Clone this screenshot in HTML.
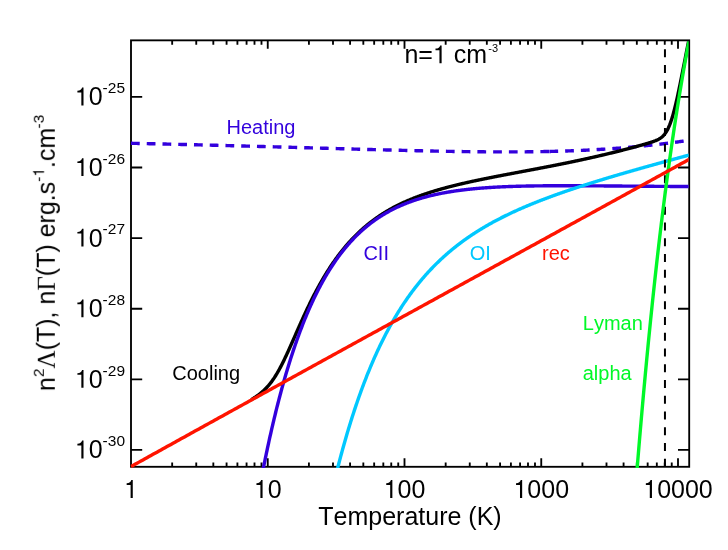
<!DOCTYPE html>
<html><head><meta charset="utf-8"><title>Cooling</title>
<style>html,body{margin:0;padding:0;background:#fff;}body{width:728px;height:550px;overflow:hidden;font-family:"Liberation Sans",sans-serif;}svg{display:block}text{font-kerning:none;}</style>
</head><body>
<svg width="728" height="550" viewBox="0 0 728 550">
<rect width="728" height="550" fill="#fff"/>
<rect x="131.0" y="40.35" width="558.2" height="426.45" fill="none" stroke="#000" stroke-width="1.85"/>
<path d="M172.17,466.8 v-4.4 M172.17,40.35 v4.4 M196.25,466.8 v-4.4 M196.25,40.35 v4.4 M213.33,466.8 v-4.4 M213.33,40.35 v4.4 M226.58,466.8 v-4.4 M226.58,40.35 v4.4 M237.41,466.8 v-4.4 M237.41,40.35 v4.4 M246.57,466.8 v-4.4 M246.57,40.35 v4.4 M254.50,466.8 v-4.4 M254.50,40.35 v4.4 M261.49,466.8 v-4.4 M261.49,40.35 v4.4 M267.75,466.8 v-8.5 M267.75,40.35 v8.5 M308.92,466.8 v-4.4 M308.92,40.35 v4.4 M333.00,466.8 v-4.4 M333.00,40.35 v4.4 M350.08,466.8 v-4.4 M350.08,40.35 v4.4 M363.33,466.8 v-4.4 M363.33,40.35 v4.4 M374.16,466.8 v-4.4 M374.16,40.35 v4.4 M383.32,466.8 v-4.4 M383.32,40.35 v4.4 M391.25,466.8 v-4.4 M391.25,40.35 v4.4 M398.24,466.8 v-4.4 M398.24,40.35 v4.4 M404.50,466.8 v-8.5 M404.50,40.35 v8.5 M445.67,466.8 v-4.4 M445.67,40.35 v4.4 M469.75,466.8 v-4.4 M469.75,40.35 v4.4 M486.83,466.8 v-4.4 M486.83,40.35 v4.4 M500.08,466.8 v-4.4 M500.08,40.35 v4.4 M510.91,466.8 v-4.4 M510.91,40.35 v4.4 M520.07,466.8 v-4.4 M520.07,40.35 v4.4 M528.00,466.8 v-4.4 M528.00,40.35 v4.4 M534.99,466.8 v-4.4 M534.99,40.35 v4.4 M541.25,466.8 v-8.5 M541.25,40.35 v8.5 M582.42,466.8 v-4.4 M582.42,40.35 v4.4 M606.50,466.8 v-4.4 M606.50,40.35 v4.4 M623.58,466.8 v-4.4 M623.58,40.35 v4.4 M636.83,466.8 v-4.4 M636.83,40.35 v4.4 M647.66,466.8 v-4.4 M647.66,40.35 v4.4 M656.82,466.8 v-4.4 M656.82,40.35 v4.4 M664.75,466.8 v-4.4 M664.75,40.35 v4.4 M671.74,466.8 v-4.4 M671.74,40.35 v4.4 M678.00,466.8 v-8.5 M678.00,40.35 v8.5 M131.0,449.90 h11.2 M689.2,449.90 h-11.2 M131.0,379.30 h11.2 M689.2,379.30 h-11.2 M131.0,308.70 h11.2 M689.2,308.70 h-11.2 M131.0,238.10 h11.2 M689.2,238.10 h-11.2 M131.0,167.50 h11.2 M689.2,167.50 h-11.2 M131.0,96.90 h11.2 M689.2,96.90 h-11.2" stroke="#000" stroke-width="1.85" fill="none"/>
<clipPath id="c"><rect x="130.4" y="41.2" width="558.2" height="426.8"/></clipPath>
<g clip-path="url(#c)"><path d="M131.00,143.28 L132.00,143.31 L133.00,143.33 L134.00,143.35 L135.00,143.37 L136.00,143.39 L137.00,143.42 L138.00,143.44 L139.00,143.46 L140.00,143.48 L141.00,143.50 L142.00,143.53 L143.00,143.55 L144.00,143.57 L145.00,143.59 L146.00,143.62 L147.00,143.64 L148.00,143.66 L149.00,143.68 L150.00,143.71 L151.00,143.73 L152.00,143.75 L153.00,143.77 L154.00,143.80 L155.00,143.82 L156.00,143.84 L157.00,143.87 L158.00,143.89 L159.00,143.91 L160.00,143.93 L161.00,143.96 L162.00,143.98 L163.00,144.00 L164.00,144.03 L165.00,144.05 L166.00,144.07 L167.00,144.10 L168.00,144.12 L169.00,144.14 L170.00,144.17 L171.00,144.19 L172.00,144.22 L173.00,144.24 L174.00,144.26 L175.00,144.29 L176.00,144.31 L177.00,144.33 L178.00,144.36 L179.00,144.38 L180.00,144.41 L181.00,144.43 L182.00,144.45 L183.00,144.48 L184.00,144.50 L185.00,144.53 L186.00,144.55 L187.00,144.57 L188.00,144.60 L189.00,144.62 L190.00,144.65 L191.00,144.67 L192.00,144.70 L193.00,144.72 L194.00,144.75 L195.00,144.77 L196.00,144.80 L197.00,144.82 L198.00,144.84 L199.00,144.87 L200.00,144.89 L201.00,144.92 L202.00,144.94 L203.00,144.97 L204.00,144.99 L205.00,145.02 L206.00,145.04 L207.00,145.07 L208.00,145.09 L209.00,145.12 L210.00,145.15 L211.00,145.17 L212.00,145.20 L213.00,145.22 L214.00,145.25 L215.00,145.27 L216.00,145.30 L217.00,145.32 L218.00,145.35 L219.00,145.37 L220.00,145.40 L221.00,145.43 L222.00,145.45 L223.00,145.48 L224.00,145.50 L225.00,145.53 L226.00,145.55 L227.00,145.58 L228.00,145.61 L229.00,145.63 L230.00,145.66 L231.00,145.68 L232.00,145.71 L233.00,145.74 L234.00,145.76 L235.00,145.79 L236.00,145.82 L237.00,145.84 L238.00,145.87 L239.00,145.89 L240.00,145.92 L241.00,145.95 L242.00,145.97 L243.00,146.00 L244.00,146.03 L245.00,146.05 L246.00,146.08 L247.00,146.11 L248.00,146.13 L249.00,146.16 L250.00,146.19 L251.00,146.21 L252.00,146.24 L253.00,146.27 L254.00,146.29 L255.00,146.32 L256.00,146.35 L257.00,146.38 L258.00,146.40 L259.00,146.43 L260.00,146.46 L261.00,146.48 L262.00,146.51 L263.00,146.54 L264.00,146.57 L265.00,146.59 L266.00,146.62 L267.00,146.65 L268.00,146.67 L269.00,146.70 L270.00,146.73 L271.00,146.76 L272.00,146.78 L273.00,146.81 L274.00,146.84 L275.00,146.87 L276.00,146.89 L277.00,146.92 L278.00,146.95 L279.00,146.98 L280.00,147.00 L281.00,147.03 L282.00,147.06 L283.00,147.09 L284.00,147.12 L285.00,147.14 L286.00,147.17 L287.00,147.20 L288.00,147.23 L289.00,147.25 L290.00,147.28 L291.00,147.31 L292.00,147.34 L293.00,147.37 L294.00,147.39 L295.00,147.42 L296.00,147.45 L297.00,147.48 L298.00,147.51 L299.00,147.53 L300.00,147.56 L301.00,147.59 L302.00,147.62 L303.00,147.65 L304.00,147.67 L305.00,147.70 L306.00,147.73 L307.00,147.76 L308.00,147.79 L309.00,147.81 L310.00,147.84 L311.00,147.87 L312.00,147.90 L313.00,147.93 L314.00,147.95 L315.00,147.98 L316.00,148.01 L317.00,148.04 L318.00,148.07 L319.00,148.10 L320.00,148.12 L321.00,148.15 L322.00,148.18 L323.00,148.21 L324.00,148.24 L325.00,148.26 L326.00,148.29 L327.00,148.32 L328.00,148.35 L329.00,148.38 L330.00,148.41 L331.00,148.43 L332.00,148.46 L333.00,148.49 L334.00,148.52 L335.00,148.55 L336.00,148.57 L337.00,148.60 L338.00,148.63 L339.00,148.66 L340.00,148.69 L341.00,148.71 L342.00,148.74 L343.00,148.77 L344.00,148.80 L345.00,148.83 L346.00,148.85 L347.00,148.88 L348.00,148.91 L349.00,148.94 L350.00,148.97 L351.00,148.99 L352.00,149.02 L353.00,149.05 L354.00,149.08 L355.00,149.10 L356.00,149.13 L357.00,149.16 L358.00,149.19 L359.00,149.21 L360.00,149.24 L361.00,149.27 L362.00,149.30 L363.00,149.32 L364.00,149.35 L365.00,149.38 L366.00,149.41 L367.00,149.43 L368.00,149.46 L369.00,149.49 L370.00,149.51 L371.00,149.54 L372.00,149.57 L373.00,149.60 L374.00,149.62 L375.00,149.65 L376.00,149.68 L377.00,149.70 L378.00,149.73 L379.00,149.76 L380.00,149.78 L381.00,149.81 L382.00,149.84 L383.00,149.86 L384.00,149.89 L385.00,149.91 L386.00,149.94 L387.00,149.97 L388.00,149.99 L389.00,150.02 L390.00,150.04 L391.00,150.07 L392.00,150.10 L393.00,150.12 L394.00,150.15 L395.00,150.17 L396.00,150.20 L397.00,150.22 L398.00,150.25 L399.00,150.27 L400.00,150.30 L401.00,150.32 L402.00,150.35 L403.00,150.37 L404.00,150.40 L405.00,150.42 L406.00,150.44 L407.00,150.47 L408.00,150.49 L409.00,150.52 L410.00,150.54 L411.00,150.57 L412.00,150.59 L413.00,150.61 L414.00,150.64 L415.00,150.66 L416.00,150.68 L417.00,150.71 L418.00,150.73 L419.00,150.75 L420.00,150.77 L421.00,150.80 L422.00,150.82 L423.00,150.84 L424.00,150.86 L425.00,150.88 L426.00,150.91 L427.00,150.93 L428.00,150.95 L429.00,150.97 L430.00,150.99 L431.00,151.01 L432.00,151.03 L433.00,151.05 L434.00,151.08 L435.00,151.10 L436.00,151.12 L437.00,151.14 L438.00,151.16 L439.00,151.18 L440.00,151.19 L441.00,151.21 L442.00,151.23 L443.00,151.25 L444.00,151.27 L445.00,151.29 L446.00,151.31 L447.00,151.33 L448.00,151.34 L449.00,151.36 L450.00,151.38 L451.00,151.40 L452.00,151.41 L453.00,151.43 L454.00,151.45 L455.00,151.46 L456.00,151.48 L457.00,151.49 L458.00,151.51 L459.00,151.53 L460.00,151.54 L461.00,151.56 L462.00,151.57 L463.00,151.59 L464.00,151.60 L465.00,151.61 L466.00,151.63 L467.00,151.64 L468.00,151.65 L469.00,151.67 L470.00,151.68 L471.00,151.69 L472.00,151.70 L473.00,151.72 L474.00,151.73 L475.00,151.74 L476.00,151.75 L477.00,151.76 L478.00,151.77 L479.00,151.78 L480.00,151.79 L481.00,151.80 L482.00,151.81 L483.00,151.82 L484.00,151.82 L485.00,151.83 L486.00,151.84 L487.00,151.85 L488.00,151.85 L489.00,151.86 L490.00,151.87 L491.00,151.87 L492.00,151.88 L493.00,151.88 L494.00,151.89 L495.00,151.89 L496.00,151.90 L497.00,151.90 L498.00,151.90 L499.00,151.91 L500.00,151.91 L501.00,151.91 L502.00,151.91 L503.00,151.92 L504.00,151.92 L505.00,151.92 L506.00,151.92 L507.00,151.92 L508.00,151.92 L509.00,151.92 L510.00,151.91 L511.00,151.91 L512.00,151.91 L513.00,151.91 L514.00,151.90 L515.00,151.90 L516.00,151.90 L517.00,151.89 L518.00,151.89 L519.00,151.88 L520.00,151.87 L521.00,151.87 L522.00,151.86 L523.00,151.85 L524.00,151.84 L525.00,151.84 L526.00,151.83 L527.00,151.82 L528.00,151.81 L529.00,151.80 L530.00,151.79 L531.00,151.77 L532.00,151.76 L533.00,151.75 L534.00,151.74 L535.00,151.72 L536.00,151.71 L537.00,151.69 L538.00,151.68 L539.00,151.66 L540.00,151.64 L541.00,151.63 L542.00,151.61 L543.00,151.59 L544.00,151.57 L545.00,151.55 L546.00,151.53 L547.00,151.51 L548.00,151.49 L549.00,151.47 L549.40,151.46" stroke="#3300dd" stroke-width="3.4" stroke-dasharray="8.75 7" fill="none"/>
<path d="M549.40,151.46 L550.40,151.44 L551.40,151.41 L552.40,151.39 L553.40,151.36 L554.40,151.34 L555.40,151.31 L556.40,151.28 L557.40,151.26 L558.40,151.23 L559.40,151.20 L560.40,151.17 L561.40,151.14 L562.40,151.11 L563.40,151.08 L564.40,151.05 L565.40,151.01 L566.40,150.98 L567.40,150.95 L568.40,150.91 L569.40,150.87 L570.40,150.84 L571.40,150.80 L572.40,150.76 L573.40,150.72 L574.40,150.68 L575.40,150.64 L576.40,150.60 L577.40,150.56 L578.40,150.52 L579.40,150.48 L580.40,150.43 L581.40,150.39 L582.40,150.34 L583.40,150.30 L584.40,150.25 L585.40,150.20 L586.40,150.15 L587.40,150.10 L588.40,150.05 L589.40,150.00 L590.40,149.95 L591.40,149.90 L592.40,149.84 L593.40,149.79 L594.40,149.73 L595.40,149.68 L596.40,149.62 L597.40,149.56 L598.40,149.50 L599.40,149.45 L600.40,149.38 L601.40,149.32 L602.40,149.26 L603.40,149.20 L604.40,149.14 L605.40,149.07 L606.40,149.00 L607.40,148.94 L608.40,148.87 L609.40,148.80 L610.40,148.73 L611.40,148.66 L612.40,148.59 L613.40,148.52 L614.40,148.45 L615.40,148.38 L616.40,148.30 L617.40,148.23 L618.40,148.15 L619.40,148.07 L620.40,147.99 L621.40,147.91 L622.40,147.83 L623.40,147.75 L624.40,147.67 L625.40,147.59 L626.40,147.51 L627.40,147.42 L628.40,147.34 L629.40,147.25 L630.40,147.16 L631.40,147.07 L632.40,146.98 L633.40,146.89 L634.40,146.80 L635.40,146.71 L636.40,146.62 L637.40,146.52 L638.40,146.43 L639.40,146.33 L640.40,146.23 L641.40,146.13 L642.40,146.04 L643.40,145.94 L644.40,145.83 L645.40,145.73 L646.40,145.63 L647.40,145.53 L648.40,145.42 L649.40,145.31 L650.40,145.21 L651.40,145.10 L652.40,144.99 L653.40,144.88 L654.40,144.77 L655.40,144.66 L656.40,144.55 L657.40,144.43 L658.40,144.32 L659.40,144.20 L660.40,144.08 L661.40,143.97 L662.40,143.85 L663.40,143.73 L664.40,143.61 L665.40,143.49 L666.40,143.36 L667.40,143.24 L668.40,143.11 L669.40,142.99 L670.40,142.86 L671.40,142.73 L672.40,142.61 L673.40,142.48 L674.40,142.35 L675.40,142.21 L676.40,142.08 L677.40,141.95 L678.40,141.81 L679.40,141.68 L680.40,141.54 L681.40,141.41 L682.40,141.27 L683.40,141.13 L684.40,140.99 L685.40,140.85 L686.40,140.70 L687.40,140.56 L688.40,140.42 L689.20,140.30" stroke="#3300dd" stroke-width="3.4" stroke-dasharray="8.75 7" fill="none"/>
<path d="M251.25,399.70 L251.75,399.39 L252.25,399.08 L252.75,398.76 L253.25,398.44 L253.75,398.12 L254.25,397.79 L254.75,397.46 L255.25,397.13 L255.75,396.79 L256.25,396.44 L256.75,396.09 L257.25,395.74 L257.75,395.37 L258.25,395.01 L258.75,394.63 L259.25,394.25 L259.75,393.87 L260.25,393.47 L260.75,393.07 L261.25,392.66 L261.75,392.24 L262.25,391.81 L262.75,391.37 L263.25,390.92 L263.75,390.47 L264.25,390.00 L264.75,389.52 L265.25,389.03 L265.75,388.52 L266.25,388.01 L266.75,387.48 L267.25,386.94 L267.75,386.39 L268.25,385.82 L268.75,385.24 L269.25,384.64 L269.75,384.03 L270.25,383.41 L270.75,382.76 L271.25,382.11 L271.75,381.44 L272.25,380.75 L272.75,380.05 L273.25,379.33 L273.75,378.59 L274.25,377.84 L274.75,377.07 L275.25,376.29 L275.75,375.49 L276.25,374.68 L276.75,373.84 L277.25,373.00 L277.75,372.14 L278.25,371.26 L278.75,370.37 L279.25,369.46 L279.75,368.54 L280.25,367.60 L280.75,366.65 L281.25,365.69 L281.75,364.72 L282.25,363.73 L282.75,362.73 L283.25,361.72 L283.75,360.70 L284.25,359.66 L284.75,358.62 L285.25,357.57 L285.75,356.51 L286.25,355.44 L286.75,354.36 L287.25,353.28 L287.75,352.18 L288.25,351.08 L288.75,349.98 L289.25,348.87 L289.75,347.76 L290.25,346.64 L290.75,345.52 L291.25,344.39 L291.75,343.26 L292.25,342.13 L292.75,341.00 L293.25,339.86 L293.75,338.73 L294.25,337.59 L294.75,336.45 L295.25,335.31 L295.75,334.18 L296.25,333.04 L296.75,331.91 L297.25,330.77 L297.75,329.64 L298.25,328.51 L298.75,327.38 L299.25,326.26 L299.75,325.14 L300.25,324.02 L300.75,322.90 L301.25,321.79 L301.75,320.68 L302.25,319.58 L302.75,318.48 L303.25,317.38 L303.75,316.29 L304.25,315.20 L304.75,314.12 L305.25,313.04 L305.75,311.97 L306.25,310.91 L306.75,309.85 L307.25,308.79 L307.75,307.74 L308.25,306.70 L308.75,305.66 L309.25,304.63 L309.75,303.60 L310.25,302.58 L310.75,301.57 L311.25,300.56 L311.75,299.56 L312.25,298.56 L312.75,297.57 L313.25,296.59 L313.75,295.61 L314.25,294.64 L314.75,293.68 L315.25,292.72 L315.75,291.77 L316.25,290.83 L316.75,289.89 L317.25,288.96 L317.75,288.03 L318.25,287.12 L318.75,286.21 L319.25,285.30 L319.75,284.40 L320.25,283.51 L320.75,282.63 L321.25,281.75 L321.75,280.88 L322.25,280.01 L322.75,279.15 L323.25,278.30 L323.75,277.45 L324.25,276.61 L324.75,275.78 L325.25,274.95 L325.75,274.13 L326.25,273.32 L326.75,272.51 L327.25,271.71 L327.75,270.91 L328.25,270.13 L328.75,269.34 L329.25,268.57 L329.75,267.80 L330.25,267.03 L330.75,266.27 L331.25,265.52 L331.75,264.78 L332.25,264.04 L332.75,263.30 L333.25,262.57 L333.75,261.85 L334.25,261.13 L334.75,260.42 L335.25,259.72 L335.75,259.02 L336.25,258.33 L336.75,257.64 L337.25,256.96 L337.75,256.28 L338.25,255.61 L338.75,254.94 L339.25,254.28 L339.75,253.63 L340.25,252.98 L340.75,252.34 L341.25,251.70 L341.75,251.07 L342.25,250.44 L342.75,249.82 L343.25,249.20 L343.75,248.59 L344.25,247.98 L344.75,247.38 L345.25,246.78 L345.75,246.19 L346.25,245.60 L346.75,245.02 L347.25,244.44 L347.75,243.87 L348.25,243.30 L348.75,242.74 L349.25,242.18 L349.75,241.63 L350.25,241.08 L350.75,240.53 L351.25,239.99 L351.75,239.46 L352.25,238.93 L352.75,238.40 L353.25,237.88 L353.75,237.36 L354.25,236.85 L354.75,236.34 L355.25,235.84 L355.75,235.34 L356.25,234.84 L356.75,234.35 L357.25,233.86 L357.75,233.38 L358.25,232.90 L358.75,232.42 L359.25,231.95 L359.75,231.49 L360.25,231.02 L360.75,230.56 L361.25,230.11 L361.75,229.66 L362.25,229.21 L362.75,228.76 L363.25,228.32 L363.75,227.89 L364.25,227.45 L364.75,227.02 L365.25,226.60 L365.75,226.18 L366.25,225.76 L366.75,225.34 L367.25,224.93 L367.75,224.52 L368.25,224.12 L368.75,223.71 L369.25,223.32 L369.75,222.92 L370.25,222.53 L370.75,222.14 L371.25,221.76 L371.75,221.37 L372.25,221.00 L372.75,220.62 L373.25,220.25 L373.75,219.88 L374.25,219.51 L374.75,219.15 L375.25,218.79 L375.75,218.43 L376.25,218.08 L376.75,217.73 L377.25,217.38 L377.75,217.03 L378.25,216.69 L378.75,216.35 L379.25,216.01 L379.75,215.68 L380.25,215.35 L380.75,215.02 L381.25,214.69 L381.75,214.37 L382.25,214.05 L382.75,213.73 L383.25,213.41 L383.75,213.10 L384.25,212.79 L384.75,212.48 L385.25,212.17 L385.75,211.87 L386.25,211.57 L386.75,211.27 L387.25,210.98 L387.75,210.68 L388.25,210.39 L388.75,210.10 L389.25,209.82 L389.75,209.53 L390.25,209.25 L390.75,208.97 L391.25,208.69 L391.75,208.42 L392.25,208.14 L392.75,207.87 L393.25,207.60 L393.75,207.33 L394.25,207.07 L394.75,206.81 L395.25,206.55 L395.75,206.29 L396.25,206.03 L396.75,205.78 L397.25,205.52 L397.75,205.27 L398.25,205.02 L398.75,204.77 L399.25,204.53 L399.75,204.29 L400.25,204.04 L400.75,203.80 L401.25,203.57 L401.75,203.33 L402.25,203.10 L402.75,202.86 L403.25,202.63 L403.75,202.40 L404.25,202.18 L404.75,201.95 L405.25,201.73 L405.75,201.50 L406.25,201.28 L406.75,201.06 L407.25,200.84 L407.75,200.63 L408.25,200.41 L408.75,200.20 L409.25,199.99 L409.75,199.78 L410.25,199.57 L410.75,199.36 L411.25,199.16 L411.75,198.95 L412.25,198.75 L412.75,198.55 L413.25,198.35 L413.75,198.15 L414.25,197.95 L414.75,197.76 L415.25,197.56 L415.75,197.37 L416.25,197.18 L416.75,196.99 L417.25,196.80 L417.75,196.61 L418.25,196.42 L418.75,196.24 L419.25,196.05 L419.75,195.87 L420.25,195.69 L420.75,195.51 L421.25,195.33 L421.75,195.15 L422.25,194.97 L422.75,194.80 L423.25,194.62 L423.75,194.45 L424.25,194.28 L424.75,194.11 L425.25,193.94 L425.75,193.77 L426.25,193.60 L426.75,193.43 L427.25,193.27 L427.75,193.10 L428.25,192.94 L428.75,192.77 L429.25,192.61 L429.75,192.45 L430.25,192.29 L430.75,192.13 L431.25,191.97 L431.75,191.81 L432.25,191.66 L432.75,191.50 L433.25,191.35 L433.75,191.19 L434.25,191.04 L434.75,190.89 L435.25,190.74 L435.75,190.59 L436.25,190.44 L436.75,190.29 L437.25,190.14 L437.75,190.00 L438.25,189.85 L438.75,189.70 L439.25,189.56 L439.75,189.42 L440.25,189.27 L440.75,189.13 L441.25,188.99 L441.75,188.85 L442.25,188.71 L442.75,188.57 L443.25,188.43 L443.75,188.29 L444.25,188.16 L444.75,188.02 L445.25,187.88 L445.75,187.75 L446.25,187.62 L446.75,187.48 L447.25,187.35 L447.75,187.22 L448.25,187.08 L448.75,186.95 L449.25,186.82 L449.75,186.69 L450.25,186.56 L450.75,186.44 L451.25,186.31 L451.75,186.18 L452.25,186.05 L452.75,185.93 L453.25,185.80 L453.75,185.68 L454.25,185.55 L454.75,185.43 L455.25,185.30 L455.75,185.18 L456.25,185.06 L456.75,184.94 L457.25,184.82 L457.75,184.69 L458.25,184.57 L458.75,184.45 L459.25,184.34 L459.75,184.22 L460.25,184.10 L460.75,183.98 L461.25,183.86 L461.75,183.75 L462.25,183.63 L462.75,183.51 L463.25,183.40 L463.75,183.28 L464.25,183.17 L464.75,183.05 L465.25,182.94 L465.75,182.83 L466.25,182.71 L466.75,182.60 L467.25,182.49 L467.75,182.37 L468.25,182.26 L468.75,182.15 L469.25,182.04 L469.75,181.93 L470.25,181.82 L470.75,181.71 L471.25,181.60 L471.75,181.49 L472.25,181.38 L472.75,181.28 L473.25,181.17 L473.75,181.06 L474.25,180.95 L474.75,180.85 L475.25,180.74 L475.75,180.63 L476.25,180.53 L476.75,180.42 L477.25,180.31 L477.75,180.21 L478.25,180.10 L478.75,180.00 L479.25,179.90 L479.75,179.79 L480.25,179.69 L480.75,179.58 L481.25,179.48 L481.75,179.38 L482.25,179.27 L482.75,179.17 L483.25,179.07 L483.75,178.97 L484.25,178.87 L484.75,178.76 L485.25,178.66 L485.75,178.56 L486.25,178.46 L486.75,178.36 L487.25,178.26 L487.75,178.16 L488.25,178.06 L488.75,177.96 L489.25,177.86 L489.75,177.76 L490.25,177.66 L490.75,177.56 L491.25,177.46 L491.75,177.36 L492.25,177.27 L492.75,177.17 L493.25,177.07 L493.75,176.97 L494.25,176.87 L494.75,176.77 L495.25,176.68 L495.75,176.58 L496.25,176.48 L496.75,176.39 L497.25,176.29 L497.75,176.19 L498.25,176.09 L498.75,176.00 L499.25,175.90 L499.75,175.80 L500.25,175.71 L500.75,175.61 L501.25,175.52 L501.75,175.42 L502.25,175.32 L502.75,175.23 L503.25,175.13 L503.75,175.04 L504.25,174.94 L504.75,174.85 L505.25,174.75 L505.75,174.66 L506.25,174.56 L506.75,174.47 L507.25,174.37 L507.75,174.28 L508.25,174.18 L508.75,174.09 L509.25,173.99 L509.75,173.90 L510.25,173.80 L510.75,173.71 L511.25,173.61 L511.75,173.52 L512.25,173.43 L512.75,173.33 L513.25,173.24 L513.75,173.14 L514.25,173.05 L514.75,172.95 L515.25,172.86 L515.75,172.77 L516.25,172.67 L516.75,172.58 L517.25,172.48 L517.75,172.39 L518.25,172.30 L518.75,172.20 L519.25,172.11 L519.75,172.01 L520.25,171.92 L520.75,171.83 L521.25,171.73 L521.75,171.64 L522.25,171.54 L522.75,171.45 L523.25,171.36 L523.75,171.26 L524.25,171.17 L524.75,171.07 L525.25,170.98 L525.75,170.89 L526.25,170.79 L526.75,170.70 L527.25,170.60 L527.75,170.51 L528.25,170.42 L528.75,170.32 L529.25,170.23 L529.75,170.13 L530.25,170.04 L530.75,169.94 L531.25,169.85 L531.75,169.76 L532.25,169.66 L532.75,169.57 L533.25,169.47 L533.75,169.38 L534.25,169.28 L534.75,169.19 L535.25,169.09 L535.75,169.00 L536.25,168.90 L536.75,168.81 L537.25,168.71 L537.75,168.62 L538.25,168.52 L538.75,168.43 L539.25,168.33 L539.75,168.24 L540.25,168.14 L540.75,168.04 L541.25,167.95 L541.75,167.85 L542.25,167.76 L542.75,167.66 L543.25,167.56 L543.75,167.47 L544.25,167.37 L544.75,167.28 L545.25,167.18 L545.75,167.08 L546.25,166.99 L546.75,166.89 L547.25,166.79 L547.75,166.70 L548.25,166.60 L548.75,166.50 L549.25,166.40 L549.75,166.31 L550.25,166.21 L550.75,166.11 L551.25,166.01 L551.75,165.92 L552.25,165.82 L552.75,165.72 L553.25,165.62 L553.75,165.52 L554.25,165.42 L554.75,165.32 L555.25,165.23 L555.75,165.13 L556.25,165.03 L556.75,164.93 L557.25,164.83 L557.75,164.73 L558.25,164.63 L558.75,164.53 L559.25,164.43 L559.75,164.33 L560.25,164.23 L560.75,164.13 L561.25,164.03 L561.75,163.93 L562.25,163.83 L562.75,163.73 L563.25,163.62 L563.75,163.52 L564.25,163.42 L564.75,163.32 L565.25,163.22 L565.75,163.12 L566.25,163.01 L566.75,162.91 L567.25,162.81 L567.75,162.71 L568.25,162.60 L568.75,162.50 L569.25,162.40 L569.75,162.29 L570.25,162.19 L570.75,162.09 L571.25,161.98 L571.75,161.88 L572.25,161.77 L572.75,161.67 L573.25,161.56 L573.75,161.46 L574.25,161.35 L574.75,161.25 L575.25,161.14 L575.75,161.04 L576.25,160.93 L576.75,160.83 L577.25,160.72 L577.75,160.61 L578.25,160.51 L578.75,160.40 L579.25,160.29 L579.75,160.19 L580.25,160.08 L580.75,159.97 L581.25,159.86 L581.75,159.76 L582.25,159.65 L582.75,159.54 L583.25,159.43 L583.75,159.32 L584.25,159.21 L584.75,159.10 L585.25,158.99 L585.75,158.88 L586.25,158.77 L586.75,158.66 L587.25,158.55 L587.75,158.44 L588.25,158.33 L588.75,158.22 L589.25,158.11 L589.75,158.00 L590.25,157.89 L590.75,157.77 L591.25,157.66 L591.75,157.55 L592.25,157.44 L592.75,157.32 L593.25,157.21 L593.75,157.10 L594.25,156.98 L594.75,156.87 L595.25,156.76 L595.75,156.64 L596.25,156.53 L596.75,156.41 L597.25,156.30 L597.75,156.18 L598.25,156.07 L598.75,155.95 L599.25,155.84 L599.75,155.72 L600.25,155.60 L600.75,155.49 L601.25,155.37 L601.75,155.25 L602.25,155.14 L602.75,155.02 L603.25,154.90 L603.75,154.78 L604.25,154.66 L604.75,154.54 L605.25,154.43 L605.75,154.31 L606.25,154.19 L606.75,154.07 L607.25,153.95 L607.75,153.83 L608.25,153.71 L608.75,153.59 L609.25,153.47 L609.75,153.34 L610.25,153.22 L610.75,153.10 L611.25,152.98 L611.75,152.86 L612.25,152.73 L612.75,152.61 L613.25,152.49 L613.75,152.37 L614.25,152.24 L614.75,152.12 L615.25,151.99 L615.75,151.87 L616.25,151.75 L616.75,151.62 L617.25,151.50 L617.75,151.37 L618.25,151.24 L618.75,151.12 L619.25,150.99 L619.75,150.87 L620.25,150.74 L620.75,150.61 L621.25,150.49 L621.75,150.36 L622.25,150.23 L622.75,150.10 L623.25,149.97 L623.75,149.84 L624.25,149.72 L624.75,149.59 L625.25,149.46 L625.75,149.33 L626.25,149.20 L626.75,149.07 L627.25,148.94 L627.75,148.81 L628.25,148.67 L628.75,148.54 L629.25,148.41 L629.75,148.28 L630.25,148.15 L630.75,148.01 L631.25,147.88 L631.75,147.75 L632.25,147.61 L632.75,147.48 L633.25,147.35 L633.75,147.21 L634.25,147.08 L634.75,146.94 L635.25,146.81 L635.75,146.67 L636.25,146.54 L636.75,146.40 L637.25,146.26 L637.75,146.13 L638.25,145.99 L638.75,145.85 L639.25,145.72 L639.75,145.58 L640.25,145.44 L640.75,145.30 L641.25,145.16 L641.75,145.02 L642.25,144.88 L642.75,144.74 L643.25,144.60 L643.75,144.46 L644.25,144.32 L644.75,144.17 L645.25,144.03 L645.75,143.88 L646.25,143.74 L646.75,143.59 L647.25,143.45 L647.75,143.30 L648.25,143.15 L648.75,143.00 L649.25,142.85 L649.75,142.69 L650.25,142.54 L650.75,142.38 L651.25,142.22 L651.75,142.05 L652.25,141.89 L652.75,141.72 L653.25,141.54 L653.75,141.36 L654.25,141.18 L654.75,140.99 L655.25,140.79 L655.75,140.59 L656.25,140.37 L656.75,140.15 L657.25,139.92 L657.75,139.68 L658.25,139.42 L658.75,139.15 L659.25,138.86 L659.75,138.56 L660.25,138.23 L660.75,137.88 L661.25,137.51 L661.75,137.11 L662.25,136.68 L662.75,136.22 L663.25,135.73 L663.75,135.19 L664.25,134.62 L664.75,134.00 L665.25,133.33 L665.75,132.61 L666.25,131.84 L666.75,131.01 L667.25,130.12 L667.75,129.16 L668.25,128.14 L668.75,127.04 L669.25,125.88 L669.75,124.65 L670.25,123.33 L670.75,121.95 L671.25,120.49 L671.75,118.95 L672.25,117.34 L672.75,115.65 L673.25,113.89 L673.75,112.06 L674.25,110.17 L674.75,108.20 L675.25,106.18 L675.75,104.10 L676.25,101.96 L676.75,99.77 L677.25,97.54 L677.75,95.26 L678.25,92.94 L678.75,90.58 L679.25,88.19 L679.75,85.78 L680.25,83.34 L680.75,80.88 L681.25,78.40 L681.75,75.90 L682.25,73.39 L682.75,70.87 L683.25,68.35 L683.75,65.82 L684.25,63.28 L684.75,60.75 L685.25,58.21 L685.75,55.68 L686.25,53.15 L686.75,50.63 L687.25,48.11 L687.75,45.61 L688.25,43.11 L688.75,40.62 L689.20,38.38" stroke="#000" stroke-width="3.4" fill="none" stroke-linejoin="round"/>
<path d="M263.03,469.80 L263.53,467.29 L264.03,464.79 L264.53,462.32 L265.03,459.87 L265.53,457.44 L266.03,455.03 L266.53,452.65 L267.03,450.28 L267.53,447.93 L268.03,445.60 L268.53,443.30 L269.03,441.01 L269.53,438.74 L270.03,436.49 L270.53,434.26 L271.03,432.05 L271.53,429.86 L272.03,427.68 L272.53,425.53 L273.03,423.39 L273.53,421.27 L274.03,419.17 L274.53,417.09 L275.03,415.03 L275.53,412.98 L276.03,410.95 L276.53,408.94 L277.03,406.95 L277.53,404.97 L278.03,403.01 L278.53,401.07 L279.03,399.14 L279.53,397.23 L280.03,395.33 L280.53,393.46 L281.03,391.59 L281.53,389.75 L282.03,387.92 L282.53,386.10 L283.03,384.30 L283.53,382.52 L284.03,380.75 L284.53,379.00 L285.03,377.26 L285.53,375.54 L286.03,373.83 L286.53,372.14 L287.03,370.46 L287.53,368.79 L288.03,367.14 L288.53,365.51 L289.03,363.88 L289.53,362.28 L290.03,360.68 L290.53,359.10 L291.03,357.53 L291.53,355.98 L292.03,354.44 L292.53,352.91 L293.03,351.40 L293.53,349.90 L294.03,348.41 L294.53,346.93 L295.03,345.47 L295.53,344.02 L296.03,342.58 L296.53,341.16 L297.03,339.75 L297.53,338.35 L298.03,336.96 L298.53,335.58 L299.03,334.22 L299.53,332.86 L300.03,331.52 L300.53,330.19 L301.03,328.87 L301.53,327.57 L302.03,326.27 L302.53,324.99 L303.03,323.71 L303.53,322.45 L304.03,321.20 L304.53,319.96 L305.03,318.73 L305.53,317.51 L306.03,316.30 L306.53,315.10 L307.03,313.92 L307.53,312.74 L308.03,311.57 L308.53,310.41 L309.03,309.27 L309.53,308.13 L310.03,307.00 L310.53,305.88 L311.03,304.78 L311.53,303.68 L312.03,302.59 L312.53,301.51 L313.03,300.44 L313.53,299.38 L314.03,298.33 L314.53,297.28 L315.03,296.25 L315.53,295.23 L316.03,294.21 L316.53,293.20 L317.03,292.20 L317.53,291.22 L318.03,290.23 L318.53,289.26 L319.03,288.30 L319.53,287.34 L320.03,286.40 L320.53,285.46 L321.03,284.53 L321.53,283.60 L322.03,282.69 L322.53,281.78 L323.03,280.88 L323.53,279.99 L324.03,279.11 L324.53,278.24 L325.03,277.37 L325.53,276.51 L326.03,275.66 L326.53,274.81 L327.03,273.97 L327.53,273.14 L328.03,272.32 L328.53,271.50 L329.03,270.69 L329.53,269.89 L330.03,269.10 L330.53,268.31 L331.03,267.53 L331.53,266.76 L332.03,265.99 L332.53,265.23 L333.03,264.47 L333.53,263.73 L334.03,262.99 L334.53,262.25 L335.03,261.52 L335.53,260.80 L336.03,260.09 L336.53,259.38 L337.03,258.68 L337.53,257.98 L338.03,257.29 L338.53,256.61 L339.03,255.93 L339.53,255.26 L340.03,254.59 L340.53,253.93 L341.03,253.28 L341.53,252.63 L342.03,251.98 L342.53,251.35 L343.03,250.72 L343.53,250.09 L344.03,249.47 L344.53,248.85 L345.03,248.24 L345.53,247.64 L346.03,247.04 L346.53,246.45 L347.03,245.86 L347.53,245.28 L348.03,244.70 L348.53,244.13 L349.03,243.56 L349.53,243.00 L350.03,242.44 L350.53,241.89 L351.03,241.34 L351.53,240.80 L352.03,240.26 L352.53,239.72 L353.03,239.20 L353.53,238.67 L354.03,238.15 L354.53,237.64 L355.03,237.13 L355.53,236.62 L356.03,236.12 L356.53,235.63 L357.03,235.13 L357.53,234.65 L358.03,234.16 L358.53,233.68 L359.03,233.21 L359.53,232.74 L360.03,232.27 L360.53,231.81 L361.03,231.35 L361.53,230.90 L362.03,230.45 L362.53,230.01 L363.03,229.56 L363.53,229.13 L364.03,228.69 L364.53,228.26 L365.03,227.84 L365.53,227.42 L366.03,227.00 L366.53,226.58 L367.03,226.17 L367.53,225.77 L368.03,225.36 L368.53,224.96 L369.03,224.57 L369.53,224.17 L370.03,223.78 L370.53,223.40 L371.03,223.02 L371.53,222.64 L372.03,222.26 L372.53,221.89 L373.03,221.52 L373.53,221.16 L374.03,220.80 L374.53,220.44 L375.03,220.08 L375.53,219.73 L376.03,219.38 L376.53,219.04 L377.03,218.70 L377.53,218.36 L378.03,218.02 L378.53,217.69 L379.03,217.36 L379.53,217.03 L380.03,216.71 L380.53,216.39 L381.03,216.07 L381.53,215.75 L382.03,215.44 L382.53,215.13 L383.03,214.83 L383.53,214.52 L384.03,214.22 L384.53,213.92 L385.03,213.63 L385.53,213.34 L386.03,213.05 L386.53,212.76 L387.03,212.47 L387.53,212.19 L388.03,211.91 L388.53,211.64 L389.03,211.36 L389.53,211.09 L390.03,210.82 L390.53,210.56 L391.03,210.29 L391.53,210.03 L392.03,209.77 L392.53,209.51 L393.03,209.26 L393.53,209.01 L394.03,208.76 L394.53,208.51 L395.03,208.27 L395.53,208.02 L396.03,207.78 L396.53,207.54 L397.03,207.31 L397.53,207.07 L398.03,206.84 L398.53,206.61 L399.03,206.39 L399.53,206.16 L400.03,205.94 L400.53,205.72 L401.03,205.50 L401.53,205.28 L402.03,205.07 L402.53,204.85 L403.03,204.64 L403.53,204.44 L404.03,204.23 L404.53,204.02 L405.03,203.82 L405.53,203.62 L406.03,203.42 L406.53,203.22 L407.03,203.03 L407.53,202.84 L408.03,202.65 L408.53,202.46 L409.03,202.27 L409.53,202.08 L410.03,201.90 L410.53,201.72 L411.03,201.54 L411.53,201.36 L412.03,201.18 L412.53,201.00 L413.03,200.83 L413.53,200.66 L414.03,200.49 L414.53,200.32 L415.03,200.15 L415.53,199.99 L416.03,199.82 L416.53,199.66 L417.03,199.50 L417.53,199.34 L418.03,199.18 L418.53,199.03 L419.03,198.87 L419.53,198.72 L420.03,198.57 L420.53,198.42 L421.03,198.27 L421.53,198.12 L422.03,197.98 L422.53,197.83 L423.03,197.69 L423.53,197.55 L424.03,197.41 L424.53,197.27 L425.03,197.13 L425.53,197.00 L426.03,196.86 L426.53,196.73 L427.03,196.60 L427.53,196.47 L428.03,196.34 L428.53,196.21 L429.03,196.08 L429.53,195.96 L430.03,195.83 L430.53,195.71 L431.03,195.59 L431.53,195.47 L432.03,195.35 L432.53,195.23 L433.03,195.11 L433.53,195.00 L434.03,194.88 L434.53,194.77 L435.03,194.66 L435.53,194.55 L436.03,194.44 L436.53,194.33 L437.03,194.22 L437.53,194.11 L438.03,194.01 L438.53,193.90 L439.03,193.80 L439.53,193.70 L440.03,193.60 L440.53,193.50 L441.03,193.40 L441.53,193.30 L442.03,193.20 L442.53,193.11 L443.03,193.01 L443.53,192.92 L444.03,192.83 L444.53,192.73 L445.03,192.64 L445.53,192.55 L446.03,192.46 L446.53,192.37 L447.03,192.29 L447.53,192.20 L448.03,192.12 L448.53,192.03 L449.03,191.95 L449.53,191.86 L450.03,191.78 L450.53,191.70 L451.03,191.62 L451.53,191.54 L452.03,191.46 L452.53,191.39 L453.03,191.31 L453.53,191.23 L454.03,191.16 L454.53,191.08 L455.03,191.01 L455.53,190.94 L456.03,190.87 L456.53,190.79 L457.03,190.72 L457.53,190.65 L458.03,190.59 L458.53,190.52 L459.03,190.45 L459.53,190.38 L460.03,190.32 L460.53,190.25 L461.03,190.19 L461.53,190.12 L462.03,190.06 L462.53,190.00 L463.03,189.94 L463.53,189.88 L464.03,189.82 L464.53,189.76 L465.03,189.70 L465.53,189.64 L466.03,189.58 L466.53,189.53 L467.03,189.47 L467.53,189.41 L468.03,189.36 L468.53,189.30 L469.03,189.25 L469.53,189.20 L470.03,189.15 L470.53,189.09 L471.03,189.04 L471.53,188.99 L472.03,188.94 L472.53,188.89 L473.03,188.84 L473.53,188.79 L474.03,188.75 L474.53,188.70 L475.03,188.65 L475.53,188.61 L476.03,188.56 L476.53,188.52 L477.03,188.47 L477.53,188.43 L478.03,188.39 L478.53,188.34 L479.03,188.30 L479.53,188.26 L480.03,188.22 L480.53,188.18 L481.03,188.14 L481.53,188.10 L482.03,188.06 L482.53,188.02 L483.03,187.98 L483.53,187.94 L484.03,187.90 L484.53,187.87 L485.03,187.83 L485.53,187.80 L486.03,187.76 L486.53,187.72 L487.03,187.69 L487.53,187.66 L488.03,187.62 L488.53,187.59 L489.03,187.56 L489.53,187.52 L490.03,187.49 L490.53,187.46 L491.03,187.43 L491.53,187.40 L492.03,187.37 L492.53,187.34 L493.03,187.31 L493.53,187.28 L494.03,187.25 L494.53,187.22 L495.03,187.19 L495.53,187.17 L496.03,187.14 L496.53,187.11 L497.03,187.08 L497.53,187.06 L498.03,187.03 L498.53,187.01 L499.03,186.98 L499.53,186.96 L500.03,186.93 L500.53,186.91 L501.03,186.89 L501.53,186.86 L502.03,186.84 L502.53,186.82 L503.03,186.79 L503.53,186.77 L504.03,186.75 L504.53,186.73 L505.03,186.71 L505.53,186.69 L506.03,186.67 L506.53,186.65 L507.03,186.63 L507.53,186.61 L508.03,186.59 L508.53,186.57 L509.03,186.55 L509.53,186.53 L510.03,186.51 L510.53,186.50 L511.03,186.48 L511.53,186.46 L512.03,186.44 L512.53,186.43 L513.03,186.41 L513.53,186.39 L514.03,186.38 L514.53,186.36 L515.03,186.35 L515.53,186.33 L516.03,186.32 L516.53,186.30 L517.03,186.29 L517.53,186.27 L518.03,186.26 L518.53,186.25 L519.03,186.23 L519.53,186.22 L520.03,186.21 L520.53,186.19 L521.03,186.18 L521.53,186.17 L522.03,186.16 L522.53,186.15 L523.03,186.13 L523.53,186.12 L524.03,186.11 L524.53,186.10 L525.03,186.09 L525.53,186.08 L526.03,186.07 L526.53,186.06 L527.03,186.05 L527.53,186.04 L528.03,186.03 L528.53,186.02 L529.03,186.01 L529.53,186.00 L530.03,185.99 L530.53,185.98 L531.03,185.98 L531.53,185.97 L532.03,185.96 L532.53,185.95 L533.03,185.94 L533.53,185.94 L534.03,185.93 L534.53,185.92 L535.03,185.91 L535.53,185.91 L536.03,185.90 L536.53,185.89 L537.03,185.89 L537.53,185.88 L538.03,185.88 L538.53,185.87 L539.03,185.86 L539.53,185.86 L540.03,185.85 L540.53,185.85 L541.03,185.84 L541.53,185.84 L542.03,185.83 L542.53,185.83 L543.03,185.82 L543.53,185.82 L544.03,185.81 L544.53,185.81 L545.03,185.81 L545.53,185.80 L546.03,185.80 L546.53,185.80 L547.03,185.79 L547.53,185.79 L548.03,185.79 L548.53,185.78 L549.03,185.78 L549.53,185.78 L550.03,185.77 L550.53,185.77 L551.03,185.77 L551.53,185.77 L552.03,185.76 L552.53,185.76 L553.03,185.76 L553.53,185.76 L554.03,185.76 L554.53,185.75 L555.03,185.75 L555.53,185.75 L556.03,185.75 L556.53,185.75 L557.03,185.75 L557.53,185.75 L558.03,185.74 L558.53,185.74 L559.03,185.74 L559.53,185.74 L560.03,185.74 L560.53,185.74 L561.03,185.74 L561.53,185.74 L562.03,185.74 L562.53,185.74 L563.03,185.74 L563.53,185.74 L564.03,185.74 L564.53,185.74 L565.03,185.74 L565.53,185.74 L566.03,185.74 L566.53,185.74 L567.03,185.74 L567.53,185.74 L568.03,185.74 L568.53,185.74 L569.03,185.74 L569.53,185.74 L570.03,185.75 L570.53,185.75 L571.03,185.75 L571.53,185.75 L572.03,185.75 L572.53,185.75 L573.03,185.75 L573.53,185.75 L574.03,185.76 L574.53,185.76 L575.03,185.76 L575.53,185.76 L576.03,185.76 L576.53,185.76 L577.03,185.77 L577.53,185.77 L578.03,185.77 L578.53,185.77 L579.03,185.77 L579.53,185.78 L580.03,185.78 L580.53,185.78 L581.03,185.78 L581.53,185.78 L582.03,185.79 L582.53,185.79 L583.03,185.79 L583.53,185.79 L584.03,185.80 L584.53,185.80 L585.03,185.80 L585.53,185.80 L586.03,185.81 L586.53,185.81 L587.03,185.81 L587.53,185.82 L588.03,185.82 L588.53,185.82 L589.03,185.82 L589.53,185.83 L590.03,185.83 L590.53,185.83 L591.03,185.84 L591.53,185.84 L592.03,185.84 L592.53,185.85 L593.03,185.85 L593.53,185.85 L594.03,185.86 L594.53,185.86 L595.03,185.86 L595.53,185.87 L596.03,185.87 L596.53,185.87 L597.03,185.88 L597.53,185.88 L598.03,185.88 L598.53,185.89 L599.03,185.89 L599.53,185.89 L600.03,185.90 L600.53,185.90 L601.03,185.91 L601.53,185.91 L602.03,185.91 L602.53,185.92 L603.03,185.92 L603.53,185.92 L604.03,185.93 L604.53,185.93 L605.03,185.94 L605.53,185.94 L606.03,185.94 L606.53,185.95 L607.03,185.95 L607.53,185.95 L608.03,185.96 L608.53,185.96 L609.03,185.97 L609.53,185.97 L610.03,185.97 L610.53,185.98 L611.03,185.98 L611.53,185.99 L612.03,185.99 L612.53,185.99 L613.03,186.00 L613.53,186.00 L614.03,186.01 L614.53,186.01 L615.03,186.01 L615.53,186.02 L616.03,186.02 L616.53,186.03 L617.03,186.03 L617.53,186.03 L618.03,186.04 L618.53,186.04 L619.03,186.05 L619.53,186.05 L620.03,186.05 L620.53,186.06 L621.03,186.06 L621.53,186.07 L622.03,186.07 L622.53,186.08 L623.03,186.08 L623.53,186.08 L624.03,186.09 L624.53,186.09 L625.03,186.10 L625.53,186.10 L626.03,186.10 L626.53,186.11 L627.03,186.11 L627.53,186.12 L628.03,186.12 L628.53,186.12 L629.03,186.13 L629.53,186.13 L630.03,186.14 L630.53,186.14 L631.03,186.15 L631.53,186.15 L632.03,186.15 L632.53,186.16 L633.03,186.16 L633.53,186.17 L634.03,186.17 L634.53,186.17 L635.03,186.18 L635.53,186.18 L636.03,186.19 L636.53,186.19 L637.03,186.19 L637.53,186.20 L638.03,186.20 L638.53,186.21 L639.03,186.21 L639.53,186.21 L640.03,186.22 L640.53,186.22 L641.03,186.22 L641.53,186.23 L642.03,186.23 L642.53,186.24 L643.03,186.24 L643.53,186.24 L644.03,186.25 L644.53,186.25 L645.03,186.26 L645.53,186.26 L646.03,186.26 L646.53,186.27 L647.03,186.27 L647.53,186.27 L648.03,186.28 L648.53,186.28 L649.03,186.29 L649.53,186.29 L650.03,186.29 L650.53,186.30 L651.03,186.30 L651.53,186.30 L652.03,186.31 L652.53,186.31 L653.03,186.31 L653.53,186.32 L654.03,186.32 L654.53,186.33 L655.03,186.33 L655.53,186.33 L656.03,186.34 L656.53,186.34 L657.03,186.34 L657.53,186.35 L658.03,186.35 L658.53,186.35 L659.03,186.36 L659.53,186.36 L660.03,186.36 L660.53,186.37 L661.03,186.37 L661.53,186.37 L662.03,186.38 L662.53,186.38 L663.03,186.38 L663.53,186.39 L664.03,186.39 L664.53,186.39 L665.03,186.40 L665.53,186.40 L666.03,186.40 L666.53,186.40 L667.03,186.41 L667.53,186.41 L668.03,186.41 L668.53,186.42 L669.03,186.42 L669.53,186.42 L670.03,186.43 L670.53,186.43 L671.03,186.43 L671.53,186.43 L672.03,186.44 L672.53,186.44 L673.03,186.44 L673.53,186.44 L674.03,186.45 L674.53,186.45 L675.03,186.45 L675.53,186.46 L676.03,186.46 L676.53,186.46 L677.03,186.46 L677.53,186.47 L678.03,186.47 L678.53,186.47 L679.03,186.47 L679.53,186.48 L680.03,186.48 L680.53,186.48 L681.03,186.48 L681.53,186.49 L682.03,186.49 L682.53,186.49 L683.03,186.49 L683.53,186.49 L684.03,186.50 L684.53,186.50 L685.03,186.50 L685.53,186.50 L686.03,186.51 L686.53,186.51 L687.03,186.51 L687.53,186.51 L688.03,186.51 L688.53,186.52 L689.03,186.52 L689.20,186.52" stroke="#3300dd" stroke-width="3.4" fill="none" stroke-linejoin="round"/>
<path d="M337.20,469.80 L337.70,467.84 L338.20,465.89 L338.70,463.96 L339.20,462.05 L339.70,460.15 L340.20,458.26 L340.70,456.39 L341.20,454.53 L341.70,452.69 L342.20,450.86 L342.70,449.05 L343.20,447.25 L343.70,445.46 L344.20,443.68 L344.70,441.92 L345.20,440.18 L345.70,438.44 L346.20,436.72 L346.70,435.02 L347.20,433.32 L347.70,431.64 L348.20,429.97 L348.70,428.31 L349.20,426.67 L349.70,425.04 L350.20,423.42 L350.70,421.81 L351.20,420.22 L351.70,418.63 L352.20,417.06 L352.70,415.50 L353.20,413.96 L353.70,412.42 L354.20,410.90 L354.70,409.38 L355.20,407.88 L355.70,406.39 L356.20,404.91 L356.70,403.44 L357.20,401.98 L357.70,400.54 L358.20,399.10 L358.70,397.68 L359.20,396.26 L359.70,394.86 L360.20,393.46 L360.70,392.08 L361.20,390.70 L361.70,389.34 L362.20,387.99 L362.70,386.64 L363.20,385.31 L363.70,383.99 L364.20,382.67 L364.70,381.37 L365.20,380.07 L365.70,378.79 L366.20,377.51 L366.70,376.24 L367.20,374.99 L367.70,373.74 L368.20,372.50 L368.70,371.27 L369.20,370.05 L369.70,368.83 L370.20,367.63 L370.70,366.43 L371.20,365.25 L371.70,364.07 L372.20,362.90 L372.70,361.74 L373.20,360.59 L373.70,359.44 L374.20,358.31 L374.70,357.18 L375.20,356.06 L375.70,354.95 L376.20,353.84 L376.70,352.75 L377.20,351.66 L377.70,350.58 L378.20,349.50 L378.70,348.44 L379.20,347.38 L379.70,346.33 L380.20,345.29 L380.70,344.25 L381.20,343.22 L381.70,342.20 L382.20,341.19 L382.70,340.18 L383.20,339.18 L383.70,338.19 L384.20,337.21 L384.70,336.23 L385.20,335.26 L385.70,334.29 L386.20,333.33 L386.70,332.38 L387.20,331.44 L387.70,330.50 L388.20,329.57 L388.70,328.64 L389.20,327.73 L389.70,326.81 L390.20,325.91 L390.70,325.01 L391.20,324.11 L391.70,323.23 L392.20,322.35 L392.70,321.47 L393.20,320.60 L393.70,319.74 L394.20,318.88 L394.70,318.03 L395.20,317.18 L395.70,316.34 L396.20,315.51 L396.70,314.68 L397.20,313.86 L397.70,313.04 L398.20,312.23 L398.70,311.43 L399.20,310.63 L399.70,309.83 L400.20,309.04 L400.70,308.26 L401.20,307.48 L401.70,306.70 L402.20,305.94 L402.70,305.17 L403.20,304.41 L403.70,303.66 L404.20,302.91 L404.70,302.17 L405.20,301.43 L405.70,300.70 L406.20,299.97 L406.70,299.25 L407.20,298.53 L407.70,297.81 L408.20,297.10 L408.70,296.40 L409.20,295.70 L409.70,295.01 L410.20,294.31 L410.70,293.63 L411.20,292.95 L411.70,292.27 L412.20,291.60 L412.70,290.93 L413.20,290.26 L413.70,289.61 L414.20,288.95 L414.70,288.30 L415.20,287.65 L415.70,287.01 L416.20,286.37 L416.70,285.74 L417.20,285.11 L417.70,284.48 L418.20,283.86 L418.70,283.24 L419.20,282.63 L419.70,282.02 L420.20,281.41 L420.70,280.81 L421.20,280.21 L421.70,279.61 L422.20,279.02 L422.70,278.44 L423.20,277.85 L423.70,277.27 L424.20,276.70 L424.70,276.12 L425.20,275.55 L425.70,274.99 L426.20,274.43 L426.70,273.87 L427.20,273.31 L427.70,272.76 L428.20,272.21 L428.70,271.67 L429.20,271.13 L429.70,270.59 L430.20,270.06 L430.70,269.53 L431.20,269.00 L431.70,268.47 L432.20,267.95 L432.70,267.43 L433.20,266.92 L433.70,266.41 L434.20,265.90 L434.70,265.39 L435.20,264.89 L435.70,264.39 L436.20,263.89 L436.70,263.40 L437.20,262.91 L437.70,262.42 L438.20,261.94 L438.70,261.45 L439.20,260.97 L439.70,260.50 L440.20,260.02 L440.70,259.55 L441.20,259.09 L441.70,258.62 L442.20,258.16 L442.70,257.70 L443.20,257.24 L443.70,256.79 L444.20,256.34 L444.70,255.89 L445.20,255.44 L445.70,255.00 L446.20,254.56 L446.70,254.12 L447.20,253.68 L447.70,253.25 L448.20,252.82 L448.70,252.39 L449.20,251.96 L449.70,251.54 L450.20,251.12 L450.70,250.70 L451.20,250.28 L451.70,249.87 L452.20,249.46 L452.70,249.05 L453.20,248.64 L453.70,248.24 L454.20,247.83 L454.70,247.43 L455.20,247.04 L455.70,246.64 L456.20,246.25 L456.70,245.85 L457.20,245.46 L457.70,245.08 L458.20,244.69 L458.70,244.31 L459.20,243.93 L459.70,243.55 L460.20,243.17 L460.70,242.80 L461.20,242.42 L461.70,242.05 L462.20,241.68 L462.70,241.32 L463.20,240.95 L463.70,240.59 L464.20,240.23 L464.70,239.87 L465.20,239.51 L465.70,239.16 L466.20,238.80 L466.70,238.45 L467.20,238.10 L467.70,237.75 L468.20,237.41 L468.70,237.06 L469.20,236.72 L469.70,236.38 L470.20,236.04 L470.70,235.70 L471.20,235.37 L471.70,235.03 L472.20,234.70 L472.70,234.37 L473.20,234.04 L473.70,233.71 L474.20,233.39 L474.70,233.06 L475.20,232.74 L475.70,232.42 L476.20,232.10 L476.70,231.78 L477.20,231.47 L477.70,231.15 L478.20,230.84 L478.70,230.53 L479.20,230.22 L479.70,229.91 L480.20,229.60 L480.70,229.30 L481.20,228.99 L481.70,228.69 L482.20,228.39 L482.70,228.09 L483.20,227.79 L483.70,227.49 L484.20,227.20 L484.70,226.90 L485.20,226.61 L485.70,226.32 L486.20,226.03 L486.70,225.74 L487.20,225.45 L487.70,225.16 L488.20,224.88 L488.70,224.59 L489.20,224.31 L489.70,224.03 L490.20,223.75 L490.70,223.47 L491.20,223.19 L491.70,222.92 L492.20,222.64 L492.70,222.37 L493.20,222.10 L493.70,221.83 L494.20,221.56 L494.70,221.29 L495.20,221.02 L495.70,220.75 L496.20,220.49 L496.70,220.22 L497.20,219.96 L497.70,219.70 L498.20,219.43 L498.70,219.17 L499.20,218.92 L499.70,218.66 L500.20,218.40 L500.70,218.14 L501.20,217.89 L501.70,217.64 L502.20,217.38 L502.70,217.13 L503.20,216.88 L503.70,216.63 L504.20,216.38 L504.70,216.14 L505.20,215.89 L505.70,215.64 L506.20,215.40 L506.70,215.15 L507.20,214.91 L507.70,214.67 L508.20,214.43 L508.70,214.19 L509.20,213.95 L509.70,213.71 L510.20,213.47 L510.70,213.24 L511.20,213.00 L511.70,212.77 L512.20,212.53 L512.70,212.30 L513.20,212.07 L513.70,211.84 L514.20,211.61 L514.70,211.38 L515.20,211.15 L515.70,210.92 L516.20,210.70 L516.70,210.47 L517.20,210.24 L517.70,210.02 L518.20,209.80 L518.70,209.57 L519.20,209.35 L519.70,209.13 L520.20,208.91 L520.70,208.69 L521.20,208.47 L521.70,208.25 L522.20,208.03 L522.70,207.82 L523.20,207.60 L523.70,207.38 L524.20,207.17 L524.70,206.96 L525.20,206.74 L525.70,206.53 L526.20,206.32 L526.70,206.11 L527.20,205.90 L527.70,205.69 L528.20,205.48 L528.70,205.27 L529.20,205.06 L529.70,204.85 L530.20,204.65 L530.70,204.44 L531.20,204.24 L531.70,204.03 L532.20,203.83 L532.70,203.62 L533.20,203.42 L533.70,203.22 L534.20,203.02 L534.70,202.82 L535.20,202.62 L535.70,202.42 L536.20,202.22 L536.70,202.02 L537.20,201.82 L537.70,201.62 L538.20,201.43 L538.70,201.23 L539.20,201.03 L539.70,200.84 L540.20,200.64 L540.70,200.45 L541.20,200.26 L541.70,200.06 L542.20,199.87 L542.70,199.68 L543.20,199.49 L543.70,199.30 L544.20,199.11 L544.70,198.92 L545.20,198.73 L545.70,198.54 L546.20,198.35 L546.70,198.16 L547.20,197.98 L547.70,197.79 L548.20,197.60 L548.70,197.42 L549.20,197.23 L549.70,197.05 L550.20,196.86 L550.70,196.68 L551.20,196.49 L551.70,196.31 L552.20,196.13 L552.70,195.95 L553.20,195.76 L553.70,195.58 L554.20,195.40 L554.70,195.22 L555.20,195.04 L555.70,194.86 L556.20,194.68 L556.70,194.50 L557.20,194.32 L557.70,194.15 L558.20,193.97 L558.70,193.79 L559.20,193.62 L559.70,193.44 L560.20,193.26 L560.70,193.09 L561.20,192.91 L561.70,192.74 L562.20,192.56 L562.70,192.39 L563.20,192.22 L563.70,192.04 L564.20,191.87 L564.70,191.70 L565.20,191.52 L565.70,191.35 L566.20,191.18 L566.70,191.01 L567.20,190.84 L567.70,190.67 L568.20,190.50 L568.70,190.33 L569.20,190.16 L569.70,189.99 L570.20,189.82 L570.70,189.65 L571.20,189.49 L571.70,189.32 L572.20,189.15 L572.70,188.98 L573.20,188.82 L573.70,188.65 L574.20,188.48 L574.70,188.32 L575.20,188.15 L575.70,187.99 L576.20,187.82 L576.70,187.66 L577.20,187.49 L577.70,187.33 L578.20,187.17 L578.70,187.00 L579.20,186.84 L579.70,186.68 L580.20,186.51 L580.70,186.35 L581.20,186.19 L581.70,186.03 L582.20,185.87 L582.70,185.70 L583.20,185.54 L583.70,185.38 L584.20,185.22 L584.70,185.06 L585.20,184.90 L585.70,184.74 L586.20,184.58 L586.70,184.42 L587.20,184.26 L587.70,184.11 L588.20,183.95 L588.70,183.79 L589.20,183.63 L589.70,183.47 L590.20,183.32 L590.70,183.16 L591.20,183.00 L591.70,182.85 L592.20,182.69 L592.70,182.53 L593.20,182.38 L593.70,182.22 L594.20,182.07 L594.70,181.91 L595.20,181.76 L595.70,181.60 L596.20,181.45 L596.70,181.29 L597.20,181.14 L597.70,180.98 L598.20,180.83 L598.70,180.68 L599.20,180.52 L599.70,180.37 L600.20,180.22 L600.70,180.06 L601.20,179.91 L601.70,179.76 L602.20,179.61 L602.70,179.45 L603.20,179.30 L603.70,179.15 L604.20,179.00 L604.70,178.85 L605.20,178.70 L605.70,178.54 L606.20,178.39 L606.70,178.24 L607.20,178.09 L607.70,177.94 L608.20,177.79 L608.70,177.64 L609.20,177.49 L609.70,177.34 L610.20,177.19 L610.70,177.05 L611.20,176.90 L611.70,176.75 L612.20,176.60 L612.70,176.45 L613.20,176.30 L613.70,176.15 L614.20,176.01 L614.70,175.86 L615.20,175.71 L615.70,175.56 L616.20,175.42 L616.70,175.27 L617.20,175.12 L617.70,174.97 L618.20,174.83 L618.70,174.68 L619.20,174.53 L619.70,174.39 L620.20,174.24 L620.70,174.10 L621.20,173.95 L621.70,173.80 L622.20,173.66 L622.70,173.51 L623.20,173.37 L623.70,173.22 L624.20,173.08 L624.70,172.93 L625.20,172.79 L625.70,172.64 L626.20,172.50 L626.70,172.35 L627.20,172.21 L627.70,172.07 L628.20,171.92 L628.70,171.78 L629.20,171.63 L629.70,171.49 L630.20,171.35 L630.70,171.20 L631.20,171.06 L631.70,170.92 L632.20,170.77 L632.70,170.63 L633.20,170.49 L633.70,170.34 L634.20,170.20 L634.70,170.06 L635.20,169.92 L635.70,169.78 L636.20,169.63 L636.70,169.49 L637.20,169.35 L637.70,169.21 L638.20,169.07 L638.70,168.92 L639.20,168.78 L639.70,168.64 L640.20,168.50 L640.70,168.36 L641.20,168.22 L641.70,168.08 L642.20,167.94 L642.70,167.79 L643.20,167.65 L643.70,167.51 L644.20,167.37 L644.70,167.23 L645.20,167.09 L645.70,166.95 L646.20,166.81 L646.70,166.67 L647.20,166.53 L647.70,166.39 L648.20,166.25 L648.70,166.11 L649.20,165.97 L649.70,165.83 L650.20,165.69 L650.70,165.55 L651.20,165.42 L651.70,165.28 L652.20,165.14 L652.70,165.00 L653.20,164.86 L653.70,164.72 L654.20,164.58 L654.70,164.44 L655.20,164.30 L655.70,164.17 L656.20,164.03 L656.70,163.89 L657.20,163.75 L657.70,163.61 L658.20,163.47 L658.70,163.34 L659.20,163.20 L659.70,163.06 L660.20,162.92 L660.70,162.79 L661.20,162.65 L661.70,162.51 L662.20,162.37 L662.70,162.24 L663.20,162.10 L663.70,161.96 L664.20,161.82 L664.70,161.69 L665.20,161.55 L665.70,161.41 L666.20,161.27 L666.70,161.14 L667.20,161.00 L667.70,160.86 L668.20,160.73 L668.70,160.59 L669.20,160.45 L669.70,160.32 L670.20,160.18 L670.70,160.04 L671.20,159.91 L671.70,159.77 L672.20,159.64 L672.70,159.50 L673.20,159.36 L673.70,159.23 L674.20,159.09 L674.70,158.96 L675.20,158.82 L675.70,158.68 L676.20,158.55 L676.70,158.41 L677.20,158.28 L677.70,158.14 L678.20,158.01 L678.70,157.87 L679.20,157.74 L679.70,157.60 L680.20,157.46 L680.70,157.33 L681.20,157.19 L681.70,157.06 L682.20,156.92 L682.70,156.79 L683.20,156.65 L683.70,156.52 L684.20,156.38 L684.70,156.25 L685.20,156.11 L685.70,155.98 L686.20,155.84 L686.70,155.71 L687.20,155.58 L687.70,155.44 L688.20,155.31 L688.70,155.17 L689.20,155.04 L689.20,155.04" stroke="#00c8ff" stroke-width="3.4" fill="none" stroke-linejoin="round"/>
<path d="M664.95,466.8 V40.35" stroke="#000" stroke-width="2" stroke-dasharray="8.1 7.65" fill="none"/>
<path d="M637.02,469.80 L637.27,466.73 L637.52,463.67 L637.77,460.62 L638.02,457.59 L638.27,454.56 L638.52,451.56 L638.77,448.56 L639.02,445.57 L639.27,442.60 L639.52,439.64 L639.77,436.70 L640.02,433.76 L640.27,430.84 L640.52,427.93 L640.77,425.03 L641.02,422.14 L641.27,419.27 L641.52,416.41 L641.77,413.56 L642.02,410.72 L642.27,407.89 L642.52,405.07 L642.77,402.27 L643.02,399.48 L643.27,396.70 L643.52,393.93 L643.77,391.17 L644.02,388.43 L644.27,385.69 L644.52,382.97 L644.77,380.26 L645.02,377.56 L645.27,374.87 L645.52,372.19 L645.77,369.52 L646.02,366.87 L646.27,364.22 L646.52,361.59 L646.77,358.96 L647.02,356.35 L647.27,353.75 L647.52,351.16 L647.77,348.58 L648.02,346.01 L648.27,343.45 L648.52,340.90 L648.77,338.37 L649.02,335.84 L649.27,333.32 L649.52,330.82 L649.77,328.32 L650.02,325.84 L650.27,323.36 L650.52,320.90 L650.77,318.44 L651.02,316.00 L651.27,313.57 L651.52,311.14 L651.77,308.73 L652.02,306.32 L652.27,303.93 L652.52,301.55 L652.77,299.17 L653.02,296.81 L653.27,294.45 L653.52,292.11 L653.77,289.77 L654.02,287.45 L654.27,285.13 L654.52,282.83 L654.77,280.53 L655.02,278.24 L655.27,275.96 L655.52,273.70 L655.77,271.44 L656.02,269.19 L656.27,266.95 L656.52,264.72 L656.77,262.50 L657.02,260.28 L657.27,258.08 L657.52,255.89 L657.77,253.70 L658.02,251.52 L658.27,249.36 L658.52,247.20 L658.77,245.05 L659.02,242.91 L659.27,240.78 L659.52,238.66 L659.77,236.54 L660.02,234.44 L660.27,232.34 L660.52,230.25 L660.77,228.17 L661.02,226.10 L661.27,224.04 L661.52,221.99 L661.77,219.94 L662.02,217.91 L662.27,215.88 L662.52,213.86 L662.77,211.85 L663.02,209.85 L663.27,207.85 L663.52,205.87 L663.77,203.89 L664.02,201.92 L664.27,199.96 L664.52,198.00 L664.77,196.06 L665.02,194.12 L665.27,192.19 L665.52,190.27 L665.77,188.35 L666.02,186.45 L666.27,184.55 L666.52,182.66 L666.77,180.78 L667.02,178.90 L667.27,177.04 L667.52,175.18 L667.77,173.32 L668.02,171.48 L668.27,169.64 L668.52,167.82 L668.77,166.00 L669.02,164.18 L669.27,162.38 L669.52,160.58 L669.77,158.79 L670.02,157.00 L670.27,155.23 L670.52,153.46 L670.77,151.69 L671.02,149.94 L671.27,148.19 L671.52,146.45 L671.77,144.72 L672.02,142.99 L672.27,141.28 L672.52,139.56 L672.77,137.86 L673.02,136.16 L673.27,134.47 L673.52,132.79 L673.77,131.11 L674.02,129.44 L674.27,127.78 L674.52,126.12 L674.77,124.47 L675.02,122.83 L675.27,121.19 L675.52,119.57 L675.77,117.94 L676.02,116.33 L676.27,114.72 L676.52,113.12 L676.77,111.52 L677.02,109.93 L677.27,108.35 L677.52,106.77 L677.77,105.20 L678.02,103.64 L678.27,102.08 L678.52,100.53 L678.77,98.99 L679.02,97.45 L679.27,95.92 L679.52,94.40 L679.77,92.88 L680.02,91.37 L680.27,89.86 L680.52,88.36 L680.77,86.87 L681.02,85.38 L681.27,83.90 L681.52,82.42 L681.77,80.95 L682.02,79.49 L682.27,78.03 L682.52,76.58 L682.77,75.13 L683.02,73.70 L683.27,72.26 L683.52,70.83 L683.77,69.41 L684.02,68.00 L684.27,66.59 L684.52,65.18 L684.77,63.78 L685.02,62.39 L685.27,61.00 L685.52,59.62 L685.77,58.25 L686.02,56.88 L686.27,55.51 L686.52,54.15 L686.77,52.80 L687.02,51.45 L687.27,50.11 L687.52,48.77 L687.77,47.44 L688.02,46.11 L688.27,44.79 L688.52,43.48 L688.77,42.17 L689.02,40.87 L689.20,39.94" stroke="#00f828" stroke-width="3.4" fill="none" stroke-linejoin="round"/>
<path d="M131.00,466.56 L133.00,465.45 L135.00,464.34 L137.00,463.23 L139.00,462.12 L141.00,461.01 L143.00,459.90 L145.00,458.79 L147.00,457.68 L149.00,456.57 L151.00,455.47 L153.00,454.36 L155.00,453.25 L157.00,452.14 L159.00,451.03 L161.00,449.93 L163.00,448.82 L165.00,447.71 L167.00,446.60 L169.00,445.50 L171.00,444.39 L173.00,443.28 L175.00,442.17 L177.00,441.07 L179.00,439.96 L181.00,438.85 L183.00,437.75 L185.00,436.64 L187.00,435.54 L189.00,434.43 L191.00,433.32 L193.00,432.22 L195.00,431.11 L197.00,430.01 L199.00,428.90 L201.00,427.80 L203.00,426.69 L205.00,425.59 L207.00,424.48 L209.00,423.38 L211.00,422.27 L213.00,421.17 L215.00,420.06 L217.00,418.96 L219.00,417.86 L221.00,416.75 L223.00,415.65 L225.00,414.54 L227.00,413.44 L229.00,412.34 L231.00,411.23 L233.00,410.13 L235.00,409.03 L237.00,407.92 L239.00,406.82 L241.00,405.72 L243.00,404.62 L245.00,403.51 L247.00,402.41 L249.00,401.31 L251.00,400.20 L253.00,399.10 L255.00,398.00 L257.00,396.90 L259.00,395.80 L261.00,394.69 L263.00,393.59 L265.00,392.49 L267.00,391.39 L269.00,390.29 L271.00,389.18 L273.00,388.08 L275.00,386.98 L277.00,385.88 L279.00,384.78 L281.00,383.68 L283.00,382.58 L285.00,381.48 L287.00,380.37 L289.00,379.27 L291.00,378.17 L293.00,377.07 L295.00,375.97 L297.00,374.87 L299.00,373.77 L301.00,372.67 L303.00,371.57 L305.00,370.47 L307.00,369.37 L309.00,368.27 L311.00,367.17 L313.00,366.07 L315.00,364.97 L317.00,363.87 L319.00,362.77 L321.00,361.67 L323.00,360.57 L325.00,359.47 L327.00,358.37 L329.00,357.27 L331.00,356.17 L333.00,355.07 L335.00,353.97 L337.00,352.87 L339.00,351.77 L341.00,350.67 L343.00,349.57 L345.00,348.47 L347.00,347.37 L349.00,346.28 L351.00,345.18 L353.00,344.08 L355.00,342.98 L357.00,341.88 L359.00,340.78 L361.00,339.68 L363.00,338.58 L365.00,337.48 L367.00,336.38 L369.00,335.29 L371.00,334.19 L373.00,333.09 L375.00,331.99 L377.00,330.89 L379.00,329.79 L381.00,328.69 L383.00,327.60 L385.00,326.50 L387.00,325.40 L389.00,324.30 L391.00,323.20 L393.00,322.10 L395.00,321.01 L397.00,319.91 L399.00,318.81 L401.00,317.71 L403.00,316.61 L405.00,315.51 L407.00,314.42 L409.00,313.32 L411.00,312.22 L413.00,311.12 L415.00,310.02 L417.00,308.92 L419.00,307.83 L421.00,306.73 L423.00,305.63 L425.00,304.53 L427.00,303.43 L429.00,302.34 L431.00,301.24 L433.00,300.14 L435.00,299.04 L437.00,297.94 L439.00,296.85 L441.00,295.75 L443.00,294.65 L445.00,293.55 L447.00,292.45 L449.00,291.36 L451.00,290.26 L453.00,289.16 L455.00,288.06 L457.00,286.96 L459.00,285.87 L461.00,284.77 L463.00,283.67 L465.00,282.57 L467.00,281.47 L469.00,280.38 L471.00,279.28 L473.00,278.18 L475.00,277.08 L477.00,275.98 L479.00,274.89 L481.00,273.79 L483.00,272.69 L485.00,271.59 L487.00,270.49 L489.00,269.40 L491.00,268.30 L493.00,267.20 L495.00,266.10 L497.00,265.00 L499.00,263.91 L501.00,262.81 L503.00,261.71 L505.00,260.61 L507.00,259.51 L509.00,258.42 L511.00,257.32 L513.00,256.22 L515.00,255.12 L517.00,254.02 L519.00,252.92 L521.00,251.83 L523.00,250.73 L525.00,249.63 L527.00,248.53 L529.00,247.43 L531.00,246.34 L533.00,245.24 L535.00,244.14 L537.00,243.04 L539.00,241.94 L541.00,240.84 L543.00,239.74 L545.00,238.65 L547.00,237.55 L549.00,236.45 L551.00,235.35 L553.00,234.25 L555.00,233.15 L557.00,232.05 L559.00,230.96 L561.00,229.86 L563.00,228.76 L565.00,227.66 L567.00,226.56 L569.00,225.46 L571.00,224.36 L573.00,223.26 L575.00,222.17 L577.00,221.07 L579.00,219.97 L581.00,218.87 L583.00,217.77 L585.00,216.67 L587.00,215.57 L589.00,214.47 L591.00,213.37 L593.00,212.27 L595.00,211.17 L597.00,210.07 L599.00,208.98 L601.00,207.88 L603.00,206.78 L605.00,205.68 L607.00,204.58 L609.00,203.48 L611.00,202.38 L613.00,201.28 L615.00,200.18 L617.00,199.08 L619.00,197.98 L621.00,196.88 L623.00,195.78 L625.00,194.68 L627.00,193.58 L629.00,192.48 L631.00,191.38 L633.00,190.28 L635.00,189.18 L637.00,188.08 L639.00,186.98 L641.00,185.88 L643.00,184.78 L645.00,183.68 L647.00,182.58 L649.00,181.48 L651.00,180.38 L653.00,179.28 L655.00,178.17 L657.00,177.07 L659.00,175.97 L661.00,174.87 L663.00,173.77 L665.00,172.67 L667.00,171.57 L669.00,170.47 L671.00,169.37 L673.00,168.27 L675.00,167.16 L677.00,166.06 L679.00,164.96 L681.00,163.86 L683.00,162.76 L685.00,161.66 L687.00,160.56 L689.00,159.45 L689.20,159.34" stroke="#ff1400" stroke-width="3.4" fill="none" stroke-linejoin="round"/></g>
<g font-family="Liberation Sans, sans-serif" fill="#000" opacity="0.999"><path d="M0.262,0 H0.349 V0.712 H0.291 C0.276,0.632 0.214,0.588 0.104,0.585 V0.520 H0.262 Z" transform="translate(124.05,497.90) scale(25.0,-25.0)"/>
<path d="M0.262,0 H0.349 V0.712 H0.291 C0.276,0.632 0.214,0.588 0.104,0.585 V0.520 H0.262 Z" transform="translate(253.85,497.90) scale(25.0,-25.0)"/>
<text x="267.75" y="497.9" font-size="25.0">0</text>
<path d="M0.262,0 H0.349 V0.712 H0.291 C0.276,0.632 0.214,0.588 0.104,0.585 V0.520 H0.262 Z" transform="translate(383.64,497.90) scale(25.0,-25.0)"/>
<text x="397.55" y="497.9" font-size="25.0">00</text>
<path d="M0.262,0 H0.349 V0.712 H0.291 C0.276,0.632 0.214,0.588 0.104,0.585 V0.520 H0.262 Z" transform="translate(513.44,497.90) scale(25.0,-25.0)"/>
<text x="527.35" y="497.9" font-size="25.0">000</text>
<path d="M0.262,0 H0.349 V0.712 H0.291 C0.276,0.632 0.214,0.588 0.104,0.585 V0.520 H0.262 Z" transform="translate(643.24,497.90) scale(25.0,-25.0)"/>
<text x="657.14" y="497.9" font-size="25.0">0000</text>
<path d="M0.262,0 H0.349 V0.712 H0.291 C0.276,0.632 0.214,0.588 0.104,0.585 V0.520 H0.262 Z" transform="translate(74.79,458.40) scale(25.0,-25.0)"/>
<text x="88.69" y="458.40" font-size="25.0">0<tspan font-size="15.5" dy="-12.2">-30</tspan></text>
<path d="M0.262,0 H0.349 V0.712 H0.291 C0.276,0.632 0.214,0.588 0.104,0.585 V0.520 H0.262 Z" transform="translate(74.79,387.80) scale(25.0,-25.0)"/>
<text x="88.69" y="387.80" font-size="25.0">0<tspan font-size="15.5" dy="-12.2">-29</tspan></text>
<path d="M0.262,0 H0.349 V0.712 H0.291 C0.276,0.632 0.214,0.588 0.104,0.585 V0.520 H0.262 Z" transform="translate(74.79,317.20) scale(25.0,-25.0)"/>
<text x="88.69" y="317.20" font-size="25.0">0<tspan font-size="15.5" dy="-12.2">-28</tspan></text>
<path d="M0.262,0 H0.349 V0.712 H0.291 C0.276,0.632 0.214,0.588 0.104,0.585 V0.520 H0.262 Z" transform="translate(74.79,246.60) scale(25.0,-25.0)"/>
<text x="88.69" y="246.60" font-size="25.0">0<tspan font-size="15.5" dy="-12.2">-27</tspan></text>
<path d="M0.262,0 H0.349 V0.712 H0.291 C0.276,0.632 0.214,0.588 0.104,0.585 V0.520 H0.262 Z" transform="translate(74.79,176.00) scale(25.0,-25.0)"/>
<text x="88.69" y="176.00" font-size="25.0">0<tspan font-size="15.5" dy="-12.2">-26</tspan></text>
<path d="M0.262,0 H0.349 V0.712 H0.291 C0.276,0.632 0.214,0.588 0.104,0.585 V0.520 H0.262 Z" transform="translate(74.79,105.40) scale(25.0,-25.0)"/>
<text x="88.69" y="105.40" font-size="25.0">0<tspan font-size="15.5" dy="-12.2">-25</tspan></text>
<text x="410" y="524.6" font-size="25" text-anchor="middle">Temperature (K)</text>
<text x="404.4" y="63.2" font-size="25">n=</text>
<path d="M0.262,0 H0.349 V0.712 H0.291 C0.276,0.632 0.214,0.588 0.104,0.585 V0.520 H0.262 Z" transform="translate(432.90,63.20) scale(25,-25)"/>
<text x="453.75" y="63.2" font-size="25">cm<tspan font-size="11" dy="-11" dx="1.2">-3</tspan></text>
<g transform="translate(54.8,391.1) rotate(-90)"><text x="0" y="0" font-size="25">n<tspan font-size="15.5" dy="-10.8">2</tspan><tspan dy="10.8" font-family="Liberation Serif, serif">Λ</tspan>(T), n<tspan font-family="Liberation Serif, serif">Γ</tspan>(T) erg.s<tspan font-size="15.5" dy="-10.8">-</tspan></text><path d="M0.262,0 H0.349 V0.712 H0.291 C0.276,0.632 0.214,0.588 0.104,0.585 V0.520 H0.262 Z" transform="translate(214.45,-10.80) scale(15.5,-15.5)"/><text x="223.09" y="0" font-size="25">.cm<tspan font-size="15.5" dy="-10.8" dx="-0.8">-3</tspan></text></g>
<text x="226.5" y="134" font-size="20" fill="#3300dd">Heating</text>
<text x="363.4" y="259.8" font-size="20" fill="#3300dd">CII</text>
<text x="469.8" y="259.8" font-size="20" fill="#00c8ff">OI</text>
<text x="542" y="259.8" font-size="20" fill="#ff1400">rec</text>
<text x="582.8" y="329.7" font-size="20" fill="#00f828">Lyman</text>
<text x="582.7" y="379.7" font-size="20" fill="#00f828">alpha</text>
<text x="172.3" y="379.9" font-size="20" fill="#000">Cooling</text></g>
</svg>
</body></html>
